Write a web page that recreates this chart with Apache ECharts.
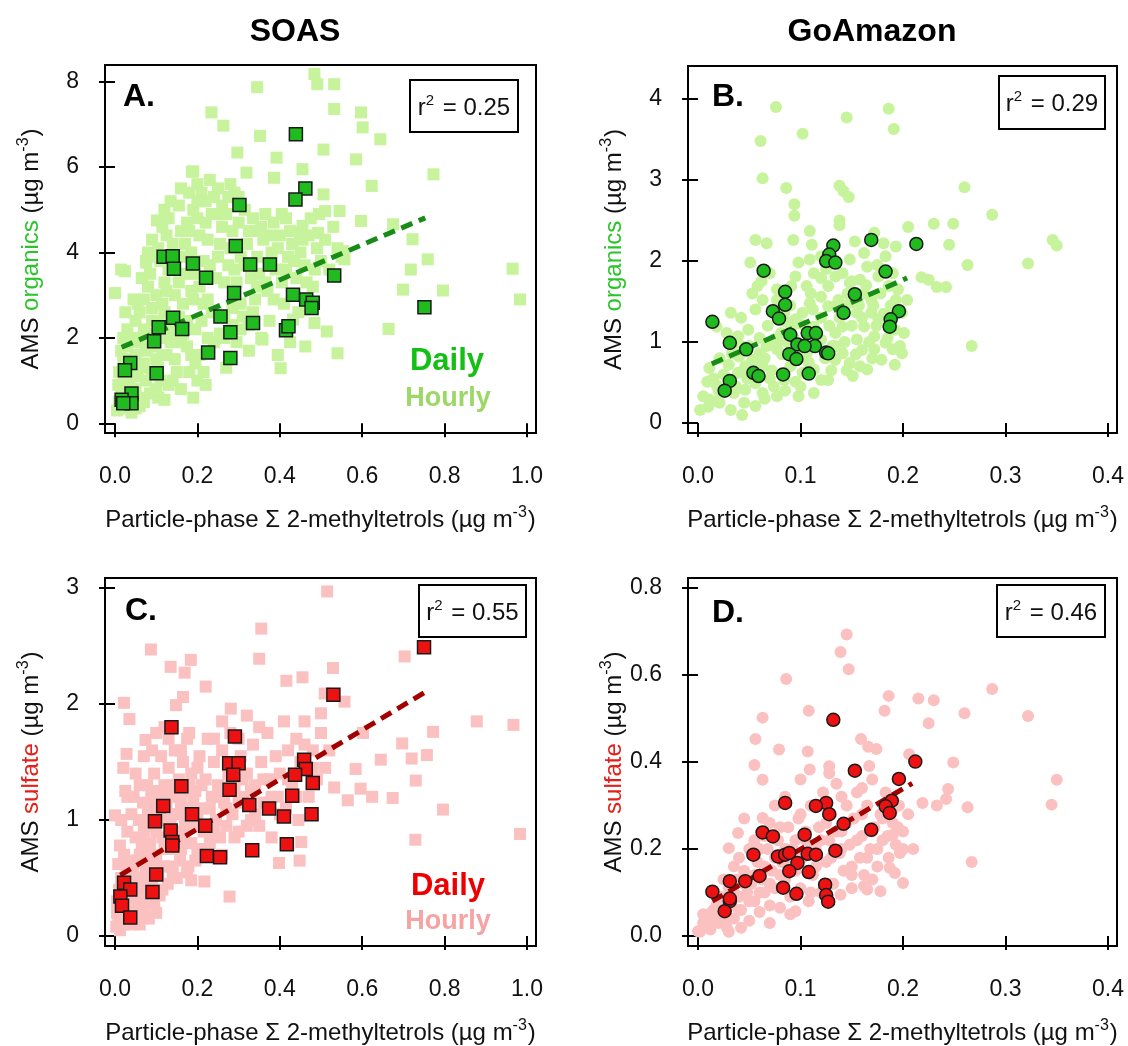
<!DOCTYPE html>
<html>
<head>
<meta charset="utf-8">
<script src="https://cdn.jsdelivr.net/npm/echarts@6/dist/echarts.min.js"></script>
<style>
html, body { margin: 0; padding: 0; background: #fff; }
#chart { width: 1128px; height: 1046px; }
</style>
</head>
<body>
<div id="chart"></div>
<script>
/* ---- data ---- */
var columnTitles = ['SOAS', 'GoAmazon'];
var panelLetters = ['A.', 'B.', 'C.', 'D.'];
var r2Values = ['0.25', '0.29', '0.55', '0.46'];

var xTicksSoas = [0, 0.2, 0.4, 0.6, 0.8, 1.0];
var xTicksAmazon = [0, 0.1, 0.2, 0.3, 0.4];
var yTicksA = [0, 2, 4, 6, 8];
var yTicksB = [0, 1, 2, 3, 4];
var yTicksC = [0, 1, 2, 3];
var yTicksD = [0, 0.2, 0.4, 0.6, 0.8];

// A. SOAS organics vs 2-methyltetrols
var dailyA = [
  [0.439,6.77],[0.462,5.50],[0.438,5.24],[0.302,5.11],[0.293,4.15],[0.118,3.90],[0.140,3.91],
  [0.143,3.62],[0.189,3.74],[0.328,3.72],[0.376,3.72],[0.221,3.41],[0.532,3.46],[0.289,3.05],
  [0.432,3.01],[0.464,2.90],[0.480,2.82],[0.477,2.70],[0.751,2.72],[0.141,2.47],[0.256,2.50],
  [0.163,2.21],[0.106,2.25],[0.335,2.35],[0.280,2.13],[0.415,2.18],[0.421,2.27],[0.095,1.92],
  [0.226,1.66],[0.280,1.53],[0.037,1.41],[0.024,1.24],[0.101,1.17],[0.040,0.70],[0.016,0.55],
  [0.040,0.47],[0.020,0.47]
];
var hourlyA = [
  [0.484,8.18],[0.491,7.94],[0.532,7.94],[0.345,7.87],[0.532,7.36],[0.234,7.28],[0.597,7.28],
  [0.263,6.97],[0.601,6.93],[0.644,6.65],[0.352,6.73],[0.506,6.41],[0.297,6.34],[0.392,6.22],
  [0.585,6.18],[0.455,5.95],[0.773,5.83],[0.187,5.89],[0.319,5.87],[0.386,5.75],[0.623,5.56],
  [0.506,5.36],[0.510,4.97],[0.545,4.97],[0.597,4.74],[0.675,4.66],[0.722,4.31],[0.718,3.60],
  [0.759,3.84],[0.965,3.62],[0.983,2.90],[0.699,3.13],[0.796,3.11],[0.664,2.21],[0.514,2.15],
  [0.462,1.80],[0.540,1.64],[0.402,1.29],[0.484,2.35],[0.432,2.43],[0.358,1.96],[0.000,3.05],
  [0.024,3.56],[0.076,3.76],[0.102,4.75],[0.553,4.03],[0.557,3.84],[0.493,4.46],[0.455,4.62],
  [0.449,4.46],
  [0.005,0.30],[0.010,0.50],[0.015,0.80],[0.020,1.00],[0.010,1.20],[0.025,0.35],[0.030,0.60],
  [0.035,0.90],[0.020,1.50],[0.030,1.80],[0.040,1.30],[0.045,0.50],[0.050,0.80],[0.055,1.10],
  [0.050,1.60],[0.060,2.00],[0.065,0.60],[0.070,1.40],[0.075,1.00],[0.080,1.80],[0.085,0.70],
  [0.090,2.40],[0.060,2.60],[0.070,2.90],[0.080,3.20],[0.090,2.70],[0.100,3.00],[0.100,1.50],
  [0.105,0.60],[0.110,1.00],[0.115,2.00],[0.120,3.30],[0.125,4.40],[0.130,4.80],[0.120,5.00],
  [0.135,5.20],[0.140,4.20],[0.145,3.00],[0.150,1.20],[0.155,5.10],[0.160,4.50],[0.165,2.80],
  [0.170,3.50],[0.175,1.80],[0.180,5.40],[0.185,4.00],[0.190,2.90],[0.195,1.40],[0.200,5.60],
  [0.200,4.80],[0.205,3.20],[0.210,2.40],[0.215,1.20],[0.220,5.20],[0.225,4.30],[0.230,3.70],
  [0.235,2.60],[0.240,1.90],[0.245,4.90],[0.250,3.90],[0.255,2.10],[0.260,4.60],[0.265,3.30],
  [0.270,1.30],[0.275,5.30],[0.280,4.10],[0.285,2.70],[0.290,3.60],[0.295,1.90],[0.300,4.70],
  [0.305,3.90],[0.310,2.50],[0.315,5.00],[0.320,4.20],[0.325,1.70],[0.330,3.40],[0.335,4.80],
  [0.340,2.90],[0.345,4.50],[0.350,3.50],[0.355,2.00],[0.360,4.30],[0.365,4.90],[0.370,3.10],
  [0.375,2.40],[0.380,4.00],[0.385,4.70],[0.390,3.60],[0.395,1.60],[0.400,4.40],[0.405,3.30],
  [0.410,2.80],[0.415,4.80],[0.420,3.90],[0.425,1.90],[0.430,4.20],[0.440,3.40],[0.445,2.60],
  [0.450,4.00],[0.460,3.70],[0.470,4.40],[0.480,3.20],[0.490,4.10],[0.500,3.80],[0.510,4.30],
  [0.520,3.60],[0.530,4.60],[0.540,4.10],[0.550,3.90],[0.140,2.30],[0.160,1.90],[0.120,2.60],
  [0.110,3.80],[0.090,4.30],[0.080,4.00],[0.130,3.60],[0.170,4.20],[0.190,5.00],[0.060,0.40],
  [0.040,0.25],[0.030,2.20],[0.050,2.40],[0.070,2.20],[0.090,1.20],[0.130,0.90],[0.160,0.80],
  [0.190,0.60],[0.125,1.60],[0.200,1.00],[0.210,5.40],[0.230,5.70],[0.190,5.90],[0.250,5.50],
  [0.270,4.90],[0.290,5.40],[0.020,2.00],[0.015,3.60],
  [0.055,2.80],[0.065,3.40],[0.075,3.80],[0.085,3.50],[0.095,3.90],[0.105,4.10],[0.115,4.60],
  [0.105,2.40],[0.115,2.80],[0.125,3.10],[0.135,2.50],[0.145,2.10],[0.155,3.30],[0.165,3.90],
  [0.175,4.70],[0.185,3.10],[0.195,3.50],[0.205,4.40],[0.215,3.80],[0.225,2.90],[0.235,4.90],
  [0.245,3.40],[0.255,4.20],[0.265,2.50],[0.275,3.70],[0.285,4.50],[0.295,3.30],[0.305,2.20],
  [0.315,3.70],[0.325,4.50],[0.335,2.60],[0.345,3.90],[0.355,4.60],[0.365,3.30],[0.375,4.40],
  [0.385,2.90],[0.395,4.10],[0.405,4.90],[0.415,3.60],[0.425,4.50],[0.435,3.80],[0.455,4.30],
  [0.465,3.30],[0.475,4.80],[0.485,3.60],[0.495,4.90],[0.035,1.10],[0.045,1.50],[0.055,1.90],
  [0.065,1.30],[0.075,1.70],[0.085,2.10],[0.095,1.80],[0.105,1.30],[0.115,1.60],[0.125,2.20],
  [0.135,1.90],[0.145,1.50],[0.155,2.50],[0.165,2.10],[0.175,2.40],[0.185,1.60],[0.195,2.20],
  [0.205,1.60],[0.215,2.80],[0.225,2.00],[0.245,2.60],[0.265,2.00],[0.285,2.30],[0.305,2.80],
  [0.325,2.30],[0.345,3.20],[0.020,0.70],[0.030,1.30],[0.015,1.70],[0.040,2.00],[0.025,2.60],
  [0.045,2.90],[0.008,0.90],[0.050,0.35],[0.070,0.50],[0.100,0.80],[0.120,0.55],[0.140,1.00],
  [0.180,1.20],[0.220,0.90],[0.160,5.50],[0.180,4.50],[0.200,5.20],[0.220,4.70],[0.240,5.30],
  [0.260,5.10],[0.280,5.60],[0.300,5.30]
];
var fitA = [[0.016,1.78],[0.753,4.81]];

// B. GoAmazon organics vs 2-methyltetrols
var dailyB = [
  [0.169,2.26],[0.213,2.21],[0.132,2.19],[0.128,2.08],[0.125,2.00],[0.134,1.98],[0.064,1.88],
  [0.183,1.87],[0.085,1.62],[0.153,1.59],[0.085,1.46],[0.073,1.38],[0.196,1.38],[0.142,1.36],
  [0.079,1.29],[0.188,1.28],[0.014,1.25],[0.187,1.19],[0.107,1.11],[0.115,1.11],[0.090,1.09],
  [0.031,0.99],[0.097,0.97],[0.114,0.95],[0.104,0.95],[0.047,0.91],[0.125,0.87],[0.127,0.86],
  [0.089,0.85],[0.096,0.79],[0.054,0.62],[0.059,0.58],[0.083,0.60],[0.108,0.61],[0.031,0.52],
  [0.026,0.40]
];
var hourlyB = [
  [0.076,3.90],[0.186,3.88],[0.191,3.63],[0.145,3.77],[0.102,3.57],[0.061,3.48],[0.063,3.02],
  [0.086,2.90],[0.138,2.93],[0.142,2.86],[0.147,2.79],[0.260,2.91],[0.094,2.70],[0.094,2.56],
  [0.138,2.50],[0.138,2.44],[0.287,2.57],[0.230,2.46],[0.249,2.46],[0.205,2.42],[0.245,2.20],
  [0.263,1.95],[0.322,1.97],[0.346,2.26],[0.350,2.19],[0.267,0.95],[0.218,1.80],[0.225,1.77],
  [0.233,1.68],[0.242,1.68],[0.056,2.26],[0.067,2.22],[0.109,2.37],[0.111,2.20],[0.093,2.26],
  [0.153,2.24],[0.172,2.35],[0.181,2.22],[0.192,0.72],[0.043,0.10],[0.018,0.27],
  [0.005,0.33],[0.002,0.16],[0.011,0.29],[0.021,0.25],[0.009,0.51],[0.018,0.47],[0.011,0.68],
  [0.021,0.80],[0.033,0.86],[0.032,1.36],[0.042,1.30],[0.039,1.07],[0.049,1.15],[0.056,1.40],
  [0.053,1.60],[0.058,1.69],[0.051,1.98],[0.062,1.75],[0.070,1.85],[0.077,1.65],[0.091,1.69],
  [0.095,1.81],[0.098,1.98],[0.109,2.02],[0.113,1.85],[0.120,1.79],[0.127,1.69],[0.134,1.81],
  [0.141,1.85],[0.148,1.73],[0.158,1.77],[0.165,1.93],[0.176,1.81],[0.186,1.69],[0.193,1.52],
  [0.199,1.36],[0.199,0.86],[0.183,0.99],[0.172,1.07],[0.162,1.19],[0.169,1.36],[0.176,1.28],
  [0.155,1.36],[0.148,1.48],[0.137,1.52],[0.127,1.44],[0.120,1.56],[0.109,1.48],[0.102,1.36],
  [0.095,1.28],[0.091,1.19],[0.081,1.11],[0.074,1.03],[0.067,0.95],[0.060,0.86],[0.053,0.78],
  [0.046,0.70],[0.039,0.62],[0.032,0.53],[0.025,0.41],[0.035,0.37],[0.046,0.41],[0.056,0.49],
  [0.063,0.37],[0.074,0.45],[0.084,0.53],[0.095,0.51],[0.102,0.62],[0.113,0.66],[0.120,0.53],
  [0.127,0.53],[0.134,0.78],[0.141,0.86],[0.148,0.74],[0.151,0.58],[0.158,0.70],[0.165,0.66],
  [0.172,0.91],[0.179,0.78],[0.190,0.91],[0.197,0.95],[0.201,1.11],[0.186,1.19],[0.134,1.11],
  [0.141,1.19],[0.120,1.03],[0.113,1.19],[0.098,1.23],[0.084,1.36],[0.077,1.52],[0.063,1.52],
  [0.106,1.69],[0.120,2.06],[0.148,2.02],[0.162,2.10],[0.183,2.06],[0.193,2.18],[0.113,0.37],
  [0.098,0.33],[0.077,0.33],[0.056,0.21],[0.032,0.16],[0.190,1.36],[0.204,1.52],[0.162,1.60],
  [0.169,1.52],[0.077,0.91],[0.088,0.99],[0.106,0.86],[0.134,0.95],[0.155,1.03],[0.063,0.70],
  [0.042,0.95],[0.028,1.11],[0.018,1.19],
  [0.015,0.55],[0.025,0.60],[0.030,0.72],[0.037,0.45],[0.040,0.82],[0.048,0.55],[0.050,0.95],
  [0.055,0.75],[0.060,1.05],[0.065,0.80],[0.068,1.20],[0.072,0.65],[0.078,1.00],[0.082,0.85],
  [0.086,1.25],[0.090,0.70],[0.093,1.05],[0.100,0.90],[0.104,1.20],[0.108,0.75],[0.112,1.40],
  [0.116,0.95],[0.120,1.30],[0.124,0.80],[0.128,1.20],[0.131,0.95],[0.135,1.45],[0.138,1.30],
  [0.143,1.00],[0.146,1.60],[0.150,1.20],[0.154,0.85],[0.157,1.45],[0.160,1.30],[0.164,1.70],
  [0.167,1.00],[0.171,1.45],[0.174,1.20],[0.178,1.60],[0.181,1.35],[0.185,1.05],[0.188,1.45],
  [0.192,1.15],[0.195,1.65],[0.170,0.80],[0.160,0.90],[0.145,0.65],[0.100,0.45],[0.085,0.40],
  [0.065,0.30],[0.045,0.25],[0.020,0.40],[0.010,0.20],[0.050,0.60],[0.070,0.55],[0.130,0.65],
  [0.110,1.60],[0.090,1.45],[0.075,1.35],[0.150,1.75],[0.125,1.90],[0.175,1.95],[0.190,1.85]
];
var fitB = [[0.0134,0.73],[0.204,1.79]];

// C. SOAS sulfate vs 2-methyltetrols
var dailyC = [
  [0.750,2.49],[0.530,2.08],[0.137,1.80],[0.291,1.72],[0.277,1.49],[0.300,1.49],[0.459,1.52],
  [0.463,1.44],[0.287,1.39],[0.437,1.39],[0.161,1.29],[0.480,1.32],[0.278,1.26],[0.430,1.21],
  [0.117,1.12],[0.326,1.13],[0.374,1.10],[0.477,1.05],[0.187,1.05],[0.410,1.03],[0.097,0.99],
  [0.219,0.95],[0.135,0.91],[0.139,0.81],[0.139,0.78],[0.417,0.79],[0.223,0.69],[0.255,0.68],
  [0.333,0.74],[0.100,0.53],[0.022,0.46],[0.037,0.40],[0.091,0.38],[0.013,0.34],[0.017,0.26],
  [0.037,0.16]
];
var hourlyC = [
  [0.515,2.97],[0.355,2.65],[0.087,2.47],[0.184,2.38],[0.350,2.39],[0.135,2.32],[0.169,2.27],
  [0.703,2.41],[0.529,2.31],[0.455,2.23],[0.416,2.20],[0.220,2.15],[0.022,2.01],[0.281,1.96],
  [0.509,2.09],[0.557,2.02],[0.878,1.85],[0.967,1.82],[0.772,1.76],[0.757,1.56],[0.602,1.75],
  [0.697,1.66],[0.720,1.53],[0.645,1.52],[0.584,1.44],[0.532,1.28],[0.596,1.27],[0.624,1.20],
  [0.565,1.17],[0.674,1.19],[0.730,1.34],[0.796,1.09],[0.729,0.83],[0.983,0.88],[0.452,0.81],
  [0.448,0.65],[0.398,0.63],[0.278,0.34],[0.217,0.47],[0.185,0.48],[0.071,0.18],[0.100,0.20],
  [0.028,1.57],[0.074,1.69],[0.035,1.87],[0.165,2.06],[0.148,1.99],[0.000,1.04],[0.500,1.92],
  [0.320,1.90],
  [0.003,0.08],[0.008,0.15],[0.012,0.05],[0.015,0.22],[0.005,0.30],[0.010,0.40],[0.018,0.12],
  [0.020,0.35],[0.025,0.10],[0.028,0.55],[0.008,0.62],[0.012,0.78],[0.022,0.70],[0.030,0.25],
  [0.035,0.45],[0.040,0.10],[0.042,0.65],[0.045,0.30],[0.050,0.85],[0.052,0.50],[0.055,0.20],
  [0.058,1.00],[0.060,0.70],[0.065,0.40],[0.068,1.15],[0.070,0.90],[0.072,0.28],[0.075,0.60],
  [0.078,1.30],[0.080,1.05],[0.082,0.15],[0.085,0.80],[0.088,1.20],[0.090,0.45],[0.095,1.40],
  [0.098,0.95],[0.100,0.70],[0.105,1.25],[0.108,0.35],[0.110,1.05],[0.112,1.55],[0.115,0.85],
  [0.118,0.60],[0.120,1.30],[0.125,1.00],[0.128,0.45],[0.130,1.45],[0.135,0.75],[0.138,1.20],
  [0.140,0.55],[0.145,1.60],[0.148,1.05],[0.150,0.90],[0.155,1.35],[0.158,0.65],[0.160,1.15],
  [0.165,1.50],[0.168,0.85],[0.170,1.25],[0.175,1.70],[0.178,0.60],[0.180,1.10],[0.185,1.40],
  [0.190,0.95],[0.195,1.25],[0.200,0.75],[0.205,1.55],[0.210,1.10],[0.215,0.90],[0.220,1.35],
  [0.225,1.70],[0.230,0.80],[0.235,1.20],[0.240,1.50],[0.245,1.00],[0.250,1.30],[0.255,0.85],
  [0.260,1.60],[0.265,1.15],[0.270,0.95],[0.275,1.40],[0.280,1.75],[0.285,1.05],[0.290,1.25],
  [0.300,0.90],[0.305,1.55],[0.310,1.20],[0.320,1.40],[0.330,1.00],[0.335,1.65],[0.340,1.30],
  [0.350,0.95],[0.355,1.50],[0.360,1.15],[0.370,1.75],[0.375,1.35],[0.380,0.85],[0.390,1.55],
  [0.395,1.20],[0.400,1.40],[0.410,1.85],[0.415,1.10],[0.420,1.60],[0.430,1.30],[0.440,1.70],
  [0.445,1.00],[0.450,1.50],[0.460,1.85],[0.470,1.20],[0.480,1.60],[0.490,1.35],[0.500,1.75],
  [0.510,1.45],[0.520,1.60],[0.060,1.30],[0.040,1.05],[0.030,0.90],[0.045,1.20],[0.015,1.00],
  [0.025,1.25],[0.100,1.75],[0.120,1.80],[0.090,1.60],
  [0.005,0.20],[0.010,0.10],[0.015,0.50],[0.020,0.18],[0.025,0.40],[0.030,0.60],[0.035,0.15],
  [0.040,0.35],[0.045,0.55],[0.050,0.25],[0.055,0.65],[0.060,0.30],[0.065,0.80],[0.070,0.50],
  [0.075,0.95],[0.080,0.40],[0.085,1.10],[0.090,0.65],[0.095,0.30],[0.100,0.90],[0.105,0.55],
  [0.110,1.20],[0.115,0.40],[0.120,0.75],[0.125,1.15],[0.130,0.60],[0.135,1.00],[0.140,1.30],
  [0.145,0.80],[0.150,0.50],[0.155,1.05],[0.160,0.75],[0.165,1.25],[0.170,0.95],[0.175,0.55],
  [0.180,1.30],[0.185,0.80],[0.190,1.15],[0.195,0.65],[0.200,1.00],[0.210,1.30],[0.220,0.75],
  [0.230,1.10],[0.240,0.90],[0.250,1.20],[0.260,0.70],[0.270,1.10],[0.280,1.30],[0.290,0.85],
  [0.300,1.15],[0.310,1.35],[0.320,0.95],[0.330,1.25],[0.340,1.05],[0.360,1.35],[0.380,1.20],
  [0.400,1.05],[0.420,1.35],[0.440,1.20],[0.460,1.65],[0.480,1.45],[0.050,1.40],[0.070,1.55],
  [0.030,1.20],[0.020,1.45],[0.060,0.10],[0.080,0.70],[0.160,1.60],[0.200,1.45],[0.240,1.70],
  [0.130,1.70],[0.180,1.75],[0.260,1.85],[0.300,1.70],[0.350,1.80]
];
var fitC = [[0.013,0.525],[0.752,2.10]];

// D. GoAmazon sulfate vs 2-methyltetrols
var dailyD = [
  [0.132,0.497],[0.212,0.401],[0.153,0.380],[0.196,0.361],[0.085,0.306],[0.125,0.306],[0.115,0.299],
  [0.189,0.311],[0.183,0.298],[0.187,0.283],[0.128,0.280],[0.142,0.258],[0.169,0.244],[0.063,0.238],
  [0.073,0.229],[0.104,0.233],[0.134,0.196],[0.054,0.187],[0.078,0.183],[0.085,0.187],[0.089,0.191],
  [0.107,0.189],[0.115,0.187],[0.097,0.168],[0.089,0.149],[0.108,0.147],[0.060,0.138],[0.046,0.126],
  [0.031,0.126],[0.124,0.118],[0.083,0.111],[0.014,0.102],[0.096,0.097],[0.125,0.094],[0.031,0.080],
  [0.127,0.079],[0.031,0.086],[0.026,0.057]
];
var hourlyD = [
  [0.145,0.693],[0.139,0.653],[0.147,0.613],[0.086,0.591],[0.287,0.568],[0.186,0.552],[0.215,0.546],
  [0.230,0.542],[0.108,0.518],[0.182,0.518],[0.260,0.512],[0.322,0.506],[0.063,0.502],[0.225,0.489],
  [0.056,0.453],[0.159,0.453],[0.166,0.435],[0.174,0.430],[0.079,0.429],[0.107,0.424],[0.206,0.418],
  [0.249,0.399],[0.055,0.393],[0.128,0.390],[0.167,0.391],[0.109,0.383],[0.128,0.374],[0.350,0.359],
  [0.345,0.302],[0.244,0.338],[0.219,0.306],[0.233,0.300],[0.242,0.315],[0.263,0.296],[0.267,0.170],
  [0.197,0.191],[0.190,0.233],[0.187,0.157],[0.192,0.145],[0.200,0.122],[0.178,0.103],[0.063,0.359],
  [0.063,0.271],[0.039,0.237],[0.030,0.202],[0.162,0.115],[0.165,0.107],[0.139,0.095],[0.042,0.019],
  [0.095,0.057],[0.000,0.011],
  [0.002,0.010],[0.005,0.030],[0.008,0.020],[0.010,0.050],[0.012,0.015],[0.015,0.040],[0.018,0.070],
  [0.020,0.030],[0.022,0.090],[0.025,0.050],[0.028,0.020],[0.030,0.110],[0.032,0.070],[0.035,0.040],
  [0.038,0.130],[0.040,0.090],[0.042,0.060],[0.045,0.150],[0.048,0.100],[0.050,0.035],[0.052,0.120],
  [0.055,0.080],[0.058,0.170],[0.060,0.055],[0.062,0.130],[0.065,0.100],[0.068,0.200],[0.070,0.070],
  [0.072,0.150],[0.075,0.110],[0.078,0.220],[0.080,0.065],[0.082,0.170],[0.085,0.130],[0.088,0.250],
  [0.090,0.090],[0.092,0.200],[0.095,0.150],[0.098,0.270],[0.100,0.110],[0.102,0.180],[0.105,0.220],
  [0.108,0.080],[0.110,0.300],[0.112,0.140],[0.115,0.200],[0.118,0.250],[0.120,0.100],[0.122,0.330],
  [0.125,0.170],[0.128,0.220],[0.130,0.280],[0.132,0.120],[0.135,0.350],[0.138,0.190],[0.140,0.240],
  [0.142,0.150],[0.145,0.300],[0.148,0.210],[0.150,0.110],[0.152,0.270],[0.155,0.330],[0.158,0.180],
  [0.160,0.230],[0.162,0.140],[0.165,0.300],[0.168,0.200],[0.170,0.360],[0.172,0.250],[0.175,0.160],
  [0.178,0.280],[0.180,0.220],[0.183,0.330],[0.186,0.180],[0.190,0.260],[0.193,0.210],[0.196,0.300],
  [0.200,0.240],[0.205,0.280],[0.210,0.200],[0.025,0.130],[0.040,0.180],[0.055,0.220],[0.070,0.260],
  [0.030,0.010],[0.015,0.100],[0.045,0.270],[0.085,0.320],[0.100,0.360],[0.075,0.300],
  [0.005,0.050],[0.010,0.020],[0.015,0.060],[0.020,0.050],[0.025,0.080],[0.030,0.040],[0.035,0.100],
  [0.040,0.060],[0.045,0.120],[0.050,0.080],[0.055,0.140],[0.060,0.100],[0.065,0.160],[0.070,0.120],
  [0.075,0.180],[0.080,0.140],[0.085,0.200],[0.090,0.160],[0.095,0.220],[0.100,0.180],[0.105,0.240],
  [0.110,0.200],[0.115,0.160],[0.120,0.220],[0.125,0.260],[0.130,0.180],[0.135,0.240],[0.140,0.200],
  [0.145,0.260],[0.150,0.160],[0.155,0.220],[0.160,0.280],[0.165,0.180],[0.170,0.240],[0.175,0.200],
  [0.180,0.270],[0.185,0.230],[0.190,0.290],[0.195,0.250],[0.200,0.200],[0.060,0.200],[0.080,0.250],
  [0.100,0.280],[0.120,0.300],[0.140,0.320],[0.160,0.340],[0.110,0.100],[0.130,0.120],[0.150,0.140],
  [0.170,0.130],[0.090,0.050],[0.070,0.030],[0.035,0.160],[0.050,0.200],[0.065,0.230],[0.020,0.090]
];
var fitD = [[0.014,0.080],[0.209,0.351]];

/* ---- styling ---- */
var FONT = '"Liberation Sans", Arial, Helvetica, sans-serif';
var GREEN_LIGHT = '#c6f39b', GREEN_DAILY = '#1fbb1f', GREEN_FIT = '#178c17';
var PINK_LIGHT = '#fbc0c0', RED_DAILY = '#ee1111', RED_FIT = '#a30000';

var grids = [
  {left: 105, top: 65, width: 431, height: 368},
  {left: 688, top: 66, width: 429, height: 367},
  {left: 105, top: 578, width: 431, height: 368},
  {left: 688, top: 578, width: 429, height: 368}
];
grids.forEach(function (g) {
  g.show = true; g.borderColor = '#000'; g.borderWidth = 2; g.backgroundColor = 'transparent';
});

// superscript: raised via bottom padding, own small lineHeight so the line box stays the same
var SUP = {fontSize: 16, fontFamily: FONT, color: '#111', verticalAlign: 'bottom',
  padding: [0, 1, 11, 0], lineHeight: 14};
var nameRich = {
  g: {color: '#2bc42b', fontSize: 24, fontFamily: FONT},
  r: {color: '#e5201a', fontSize: 24, fontFamily: FONT},
  s: SUP
};
var X_NAME = 'Particle-phase \u03A3 2-methyltetrols (\u00B5g m{s|-3})';

function xAxisFor(i, min, max, ticks, dec) {
  return {
    gridIndex: i, type: 'value', min: min, max: max, offset: 4,
    axisLine: {show: false}, splitLine: {show: false},
    axisTick: {show: true, inside: false, length: 14, customValues: ticks,
      lineStyle: {color: '#000', width: 2}},
    axisLabel: {customValues: ticks, margin: 28, color: '#111', fontSize: 23, fontFamily: FONT,
      formatter: function (v) { return v.toFixed(dec); }},
    name: X_NAME, nameLocation: 'middle', nameGap: 71,
    nameTextStyle: {color: '#111', fontSize: 24, fontFamily: FONT, rich: nameRich}
  };
}
function yAxisFor(i, min, max, ticks, dec, name) {
  return {
    gridIndex: i, type: 'value', min: min, max: max,
    axisLine: {show: false}, splitLine: {show: false},
    axisTick: {show: true, inside: false, length: 16, customValues: ticks,
      lineStyle: {color: '#000', width: 2}},
    axisLabel: {customValues: ticks, margin: 26, color: '#111', fontSize: 23, fontFamily: FONT,
      formatter: function (v) { return v.toFixed(dec); }},
    name: name, nameLocation: 'middle', nameRotate: 90, nameGap: 62,
    nameTextStyle: {color: '#111', fontSize: 24, fontFamily: FONT, rich: nameRich}
  };
}

function panelSeries(i, hourly, daily, fit, shape, light, dark, fitColor) {
  return [
    {type: 'scatter', xAxisIndex: i, yAxisIndex: i, data: hourly, symbol: shape, symbolSize: 12,
      itemStyle: {color: light, opacity: 1}, z: 2, silent: true},
    {type: 'line', xAxisIndex: i, yAxisIndex: i, data: fit, symbol: 'none',
      lineStyle: {color: fitColor, width: 5, type: [12, 7]}, z: 3, silent: true},
    {type: 'scatter', xAxisIndex: i, yAxisIndex: i, data: daily, symbol: shape, symbolSize: 13,
      itemStyle: {color: dark, borderColor: '#1a1a1a', borderWidth: 1.5, opacity: 1}, z: 4, silent: true}
  ];
}

function textEl(x, y, text, size, color, weight, align) {
  return {type: 'text', z: 100, style: {x: x, y: y, text: text, fill: color,
    font: (weight || 'normal') + ' ' + size + 'px ' + FONT,
    align: align || 'center', verticalAlign: 'middle'}};
}
function r2Box(x, y, w, h, val) {
  return [
    {type: 'rect', z: 100, shape: {x: x, y: y, width: w, height: h},
      style: {fill: '#fff', stroke: '#000', lineWidth: 2}},
    {type: 'text', z: 101, style: {x: x + w / 2, y: y + h / 2 + 2, text: 'r{s|2} = ' + val,
      fill: '#111', font: '24px ' + FONT, align: 'center', verticalAlign: 'middle',
      rich: {s: {fontSize: 15, fontFamily: FONT, fill: '#111', verticalAlign: 'bottom',
        padding: [0, 2, 12, 0], lineHeight: 14}}}}
  ];
}

var graphics = [
  textEl(295, 32, columnTitles[0], 32, '#000', 'bold'),
  textEl(872, 32, columnTitles[1], 32, '#000', 'bold'),
  textEl(123, 97, panelLetters[0], 32, '#000', 'bold', 'left'),
  textEl(712, 97, panelLetters[1], 32, '#000', 'bold', 'left'),
  textEl(125, 611, panelLetters[2], 32, '#000', 'bold', 'left'),
  textEl(712, 613, panelLetters[3], 32, '#000', 'bold', 'left'),
  textEl(447, 361, 'Daily', 31, '#14c014', 'bold'),
  textEl(448, 399, 'Hourly', 27, '#9bd865', 'bold'),
  textEl(448, 886, 'Daily', 31, '#ee0000', 'bold'),
  textEl(448, 922, 'Hourly', 27, '#f5a3a3', 'bold')
].concat(r2Box(410, 80, 108, 52, r2Values[0]))
 .concat(r2Box(999, 76, 106, 53, r2Values[1]))
 .concat(r2Box(419, 585, 107, 52, r2Values[2]))
 .concat(r2Box(997, 585, 108, 52, r2Values[3]));

var option = {
  animation: false,
  backgroundColor: '#fff',
  grid: grids,
  xAxis: [
    xAxisFor(0, -0.0243, 1.0218, xTicksSoas, 1),
    xAxisFor(1, -0.0098, 0.4088, xTicksAmazon, 1),
    xAxisFor(2, -0.0243, 1.0218, xTicksSoas, 1),
    xAxisFor(3, -0.0098, 0.4088, xTicksAmazon, 1)
  ],
  yAxis: [
    yAxisFor(0, -0.227, 8.39, yTicksA, 0, 'AMS {g|organics} (\u00B5g m{s|-3})'),
    yAxisFor(1, -0.123, 4.407, yTicksB, 0, 'AMS {g|organics} (\u00B5g m{s|-3})'),
    yAxisFor(2, -0.086, 3.086, yTicksC, 0, 'AMS {r|sulfate} (\u00B5g m{s|-3})'),
    yAxisFor(3, -0.023, 0.823, yTicksD, 1, 'AMS {r|sulfate} (\u00B5g m{s|-3})')
  ],
  series: [].concat(
    panelSeries(0, hourlyA, dailyA, fitA, 'rect', GREEN_LIGHT, GREEN_DAILY, GREEN_FIT),
    panelSeries(1, hourlyB, dailyB, fitB, 'circle', GREEN_LIGHT, GREEN_DAILY, GREEN_FIT),
    panelSeries(2, hourlyC, dailyC, fitC, 'rect', PINK_LIGHT, RED_DAILY, RED_FIT),
    panelSeries(3, hourlyD, dailyD, fitD, 'circle', PINK_LIGHT, RED_DAILY, RED_FIT)
  ),
  graphic: graphics
};

var chart = echarts.init(document.getElementById('chart'), null, {renderer: 'canvas'});
chart.setOption(option);
window.addEventListener('resize', function () { chart.resize(); });
</script>
</body>
</html>
